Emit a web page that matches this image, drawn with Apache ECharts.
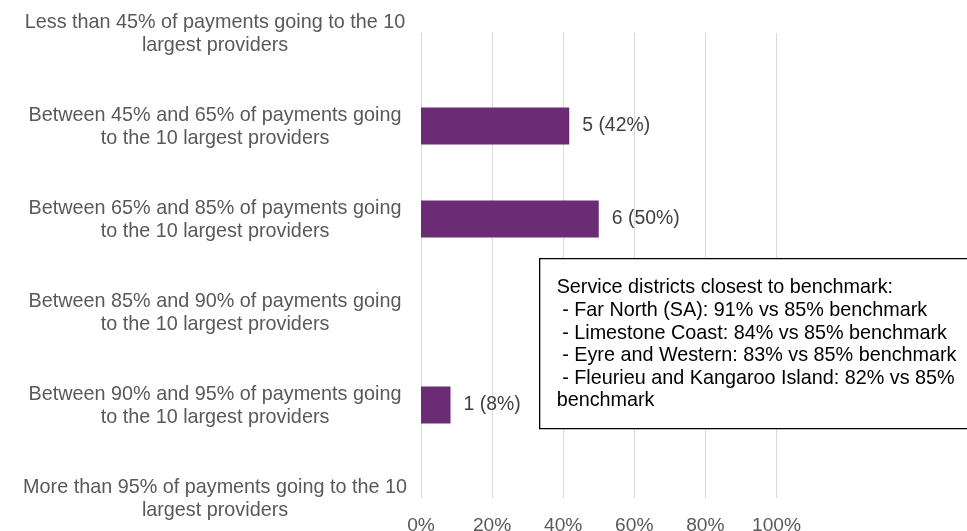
<!DOCTYPE html>
<html>
<head>
<meta charset="utf-8">
<script src="https://cdn.jsdelivr.net/npm/echarts@6/dist/echarts.min.js"></script>
<style>
html,body{margin:0;padding:0;background:#fff;}
#main{width:967px;height:531px;}
</style>
</head>
<body>
<div id="main"></div>
<script>
// Categories (top to bottom)
var categories = [
  'Less than 45% of payments going to the 10\nlargest providers',
  'Between 45% and 65% of payments going\nto the 10 largest providers',
  'Between 65% and 85% of payments going\nto the 10 largest providers',
  'Between 85% and 90% of payments going\nto the 10 largest providers',
  'Between 90% and 95% of payments going\nto the 10 largest providers',
  'More than 95% of payments going to the 10\nlargest providers'
];
// Number of service districts in each band
var counts = [0, 5, 6, 0, 1, 0];
// Share of service districts (%)
var shares = [0, 41.7, 50.0, 0, 8.3, 0];
// Percent shown in the bar labels
var shareLabels = [0, 42, 50, 0, 8, 0];
// X-axis ticks
var xTicks = [0, 20, 40, 60, 80, 100];
// Annotation text lines
var noteLines = [
  'Service districts closest to benchmark:',
  ' - Far North (SA): 91% vs 85% benchmark',
  ' - Limestone Coast: 84% vs 85% benchmark',
  ' - Eyre and Western: 83% vs 85% benchmark',
  ' - Fleurieu and Kangaroo Island: 82% vs 85%',
  'benchmark'
];

var FONT = 'Liberation Sans, Arial, sans-serif';
var chart = echarts.init(document.getElementById('main'), null, {renderer: 'canvas'});
var option = {
  backgroundColor: '#ffffff',
  animation: false,
  textStyle: {fontFamily: FONT},
  grid: {left: 421, right: 190.5, top: 33, bottom: 33, containLabel: false, outerBoundsMode: 'none'},
  xAxis: {
    type: 'value',
    min: xTicks[0],
    max: xTicks[xTicks.length - 1],
    interval: xTicks[1] - xTicks[0],
    axisLine: {show: false},
    axisTick: {show: false},
    axisLabel: {
      formatter: '{value}%',
      color: '#595959',
      fontSize: 19.2,
      fontFamily: FONT,
      margin: 18
    },
    splitLine: {show: true, lineStyle: {color: '#d9d9d9', width: 1}}
  },
  yAxis: {
    type: 'category',
    data: categories,
    inverse: true,
    boundaryGap: false,
    axisLine: {show: false},
    axisTick: {show: false},
    splitLine: {show: false},
    axisLabel: {
      margin: 13,
      formatter: function (v) {
        return v.split('\n').map(function (s) { return '{c|' + s + '}'; }).join('\n');
      },
      rich: {
        c: {
          width: 386,
          align: 'center',
          fontSize: 19.8,
          lineHeight: 22.3,
          color: '#595959',
          fontFamily: FONT,
          padding: [2, 0, 0, 0]
        }
      }
    }
  },
  series: [{
    type: 'bar',
    data: shares,
    barWidth: 37,
    itemStyle: {color: '#6b2c75'},
    label: {
      show: true,
      position: 'right',
      distance: 13,
      color: '#404040',
      fontSize: 19.4,
      fontFamily: FONT,
      formatter: function (p) {
        var i = p.dataIndex;
        if (!counts[i]) return '';
        return counts[i] + ' (' + shareLabels[i] + '%)';
      }
    }
  }],
  graphic: [{
    type: 'group',
    left: 539,
    top: 258,
    z: 100,
    children: [{
      type: 'rect',
      z: 100,
      shape: {x: 0, y: 0, width: 440, height: 170},
      style: {fill: '#ffffff', stroke: '#000000', lineWidth: 1.3}
    }, {
      type: 'text',
      z: 101,
      x: 17,
      y: 18,
      style: {
        text: noteLines.join('\n'),
        fill: '#000000',
        fontSize: 19.8,
        lineHeight: 22.6,
        fontFamily: FONT,
        verticalAlign: 'top',
        align: 'left'
      }
    }]
  }]
};
chart.setOption(option);
</script>
</body>
</html>
